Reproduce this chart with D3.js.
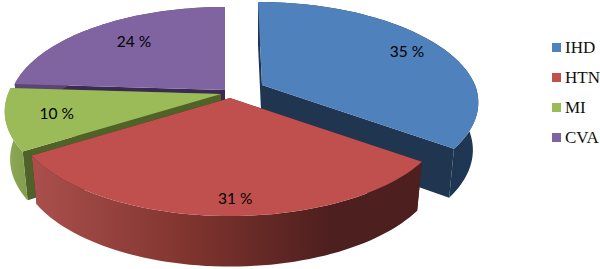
<!DOCTYPE html>
<html>
<head>
<meta charset="utf-8">
<script src="https://cdn.jsdelivr.net/npm/d3@7"></script>
<style>
  html, body { margin: 0; padding: 0; background: #fff; }
  svg { display: block; }
</style>
</head>
<body>
<div id="chart"></div>
<script>
// chart data
var categories = ["IHD", "HTN", "MI", "CVA"];
var shares = [35, 31, 10, 24];

// layout and styling, per category
var colors = ["#4f81bd", "#c0504d", "#9bbb59", "#8064a2"];
var cutColors = ["#1f3550", "#4d1f1e", "#4f6228", "#3b2a52"];
var apexX = [262, 230, 221, 225];
var apexY = [85, 98, 94, 90];
var backLean = [4, 0, 0, 0];
var labelRadius = [0.81, 0.86, 0.77, 0.71];
var labelNudgeX = [2, 12, 0, 4];
var labelNudgeY = [0, 2, 0, -2];
var drawOrder = [3, 2, 0, 1];

var svgWidth = 600;
var svgHeight = 269;
var radiusX = 213;
var radiusY = 97.5;
var perspective = 0.174;
var depth = 47;

var svg = d3.select("#chart")
  .append("svg")
  .attr("width", svgWidth)
  .attr("height", svgHeight);

// side wall shading
var defs = svg.append("defs");
function wallGradient(id, x1, x2, stops) {
  var g = defs.append("linearGradient")
    .attr("id", id)
    .attr("gradientUnits", "userSpaceOnUse")
    .attr("x1", x1).attr("x2", x2)
    .attr("y1", 0).attr("y2", 0);
  stops.forEach(function(s) {
    g.append("stop").attr("offset", s[0]).attr("stop-color", s[1]);
  });
  return "url(#" + id + ")";
}
var wallFills = [
  wallGradient("wall0", 445, 478, [[0, "#1f3550"], [1, "#1f3855"]]),
  wallGradient("wall1", 36, 330, [[0, "#a94f4c"], [0.5, "#82352f"], [1, "#4d1f1e"]]),
  wallGradient("wall2", 5, 30, [[0, "#8fac56"], [1, "#7f9a4c"]]),
  wallGradient("wall3", 0, 600, [[0, "#5a4673"], [1, "#5a4673"]])
];

// angle is clockwise from the back of the pie, r is 0..1 on the disc
function topPoint(i, angle, r) {
  var u = r * Math.sin(angle);
  var v = -r * Math.cos(angle);
  var w = 1 - perspective * v;
  return [
    apexX[i] + radiusX * u / w + backLean[i] * Math.min(v, 0),
    apexY[i] + radiusY * v / w
  ];
}

function bottomPoint(i, angle, r) {
  var p = topPoint(i, angle, r);
  return [
    apexX[i] + (p[0] - apexX[i]) * 0.975,
    p[1] + depth + (p[1] - apexY[i]) * 0.03
  ];
}

var pie = d3.pie().sort(null).value(function(d) { return d; });
var arcs = pie(shares);
var line = d3.line();

function arcAngles(a) {
  return d3.range(0, 61).map(function(k) {
    return a.startAngle + (a.endAngle - a.startAngle) * k / 60;
  });
}

drawOrder.forEach(function(i) {
  var a = arcs[i];
  var angles = arcAngles(a);
  var slice = svg.append("g").attr("class", "slice-" + categories[i]);

  // cut faces, start edge then end edge
  [a.startAngle, a.endAngle].forEach(function(edge) {
    slice.append("path")
      .attr("d", line([
        topPoint(i, 0, 0),
        topPoint(i, edge, 1),
        bottomPoint(i, edge, 1),
        bottomPoint(i, 0, 0)
      ]) + "Z")
      .attr("fill", cutColors[i]);
  });

  // outer wall
  var wall = angles.map(function(t) { return topPoint(i, t, 1); })
    .concat(angles.slice().reverse().map(function(t) { return bottomPoint(i, t, 1); }));
  slice.append("path")
    .attr("d", line(wall) + "Z")
    .attr("fill", wallFills[i]);

  // top face
  var top = [topPoint(i, 0, 0)].concat(angles.map(function(t) { return topPoint(i, t, 1); }));
  slice.append("path")
    .attr("d", line(top) + "Z")
    .attr("fill", colors[i]);
});

// percent labels
arcs.forEach(function(a, i) {
  var mid = (a.startAngle + a.endAngle) / 2;
  var p = topPoint(i, mid, labelRadius[i]);
  svg.append("text")
    .attr("x", p[0] + labelNudgeX[i])
    .attr("y", p[1] + labelNudgeY[i])
    .attr("dy", "0.35em")
    .attr("text-anchor", "middle")
    .attr("font-family", "Lato, sans-serif")
    .attr("font-size", "15.5px")
    .attr("fill", "#000")
    .text(shares[i] + " %");
});

// legend
var legendY = d3.scalePoint()
  .domain(categories)
  .range([47, 137]);

var legend = svg.selectAll(".legend")
  .data(categories)
  .enter()
  .append("g")
  .attr("class", "legend")
  .attr("transform", function(d) { return "translate(552," + legendY(d) + ")"; });

legend.append("rect")
  .attr("x", 0)
  .attr("y", -4)
  .attr("width", 9)
  .attr("height", 9)
  .attr("fill", function(d, i) { return colors[i]; });

legend.append("text")
  .attr("x", 13)
  .attr("y", 0)
  .attr("dy", "0.35em")
  .attr("font-family", "'Liberation Serif', serif")
  .attr("font-size", "17px")
  .attr("fill", "#111")
  .text(function(d) { return d; });
</script>
</body>
</html>
